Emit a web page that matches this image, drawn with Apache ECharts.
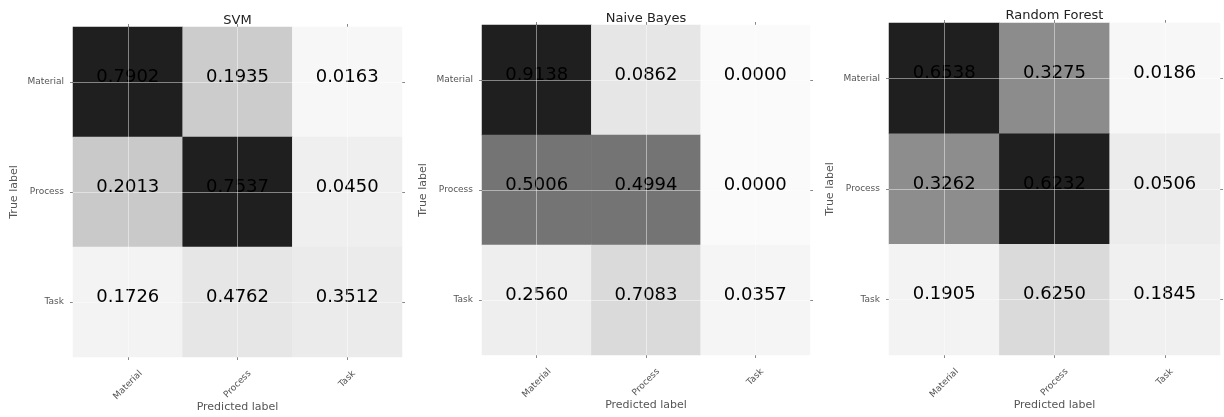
<!DOCTYPE html>
<html><head><meta charset="utf-8">
<script src="https://cdn.jsdelivr.net/npm/echarts@6/dist/echarts.min.js"></script>
<style>html,body{margin:0;padding:0;background:#fff}#c{width:1224px;height:417px}</style>
</head><body><div id="c"></div>
<script>
// ---- data ----
const categories = ['Material', 'Process', 'Task'];
const panelTitles = ['SVM', 'Naive Bayes', 'Random Forest'];
const xAxisName = 'Predicted label';
const yAxisName = 'True label';

// normalized values printed in the cells (rows = true label, cols = predicted)
const svmValues = [[0.7902, 0.1935, 0.0163], [0.2013, 0.7537, 0.0450], [0.1726, 0.4762, 0.3512]];
const nbValues  = [[0.9138, 0.0862, 0.0000], [0.5006, 0.4994, 0.0000], [0.2560, 0.7083, 0.0357]];
const rfValues  = [[0.6538, 0.3275, 0.0186], [0.3262, 0.6232, 0.0506], [0.1905, 0.6250, 0.1845]];

// cell intensity used for the grey colour scale
const svmShade = [[0.88, 0.20, 0.03], [0.21, 0.88, 0.063], [0.047, 0.098, 0.078]];
const nbShade  = [[0.88, 0.10, 0.02], [0.545, 0.545, 0.02], [0.067, 0.145, 0.039]];
const rfShade  = [[0.88, 0.451, 0.031], [0.447, 0.88, 0.075], [0.047, 0.145, 0.059]];

// ---- layout / style ----
const FONT = '"DejaVu Sans", sans-serif';
const rects = [
  { left: 73,  top: 27, width: 329, height: 330, titleTop: 14 },
  { left: 482, top: 25, width: 328, height: 330, titleTop: 12 },
  { left: 889, top: 23, width: 331, height: 332, titleTop: 9 }
];
const panels = [
  { values: svmValues, shade: svmShade },
  { values: nbValues,  shade: nbShade },
  { values: rfValues,  shade: rfShade }
];

// per-label padding so rotated tick labels hang with their tops aligned (like matplotlib)
const mctx = document.createElement('canvas').getContext('2d');
mctx.font = '9px "DejaVu Sans"';
const widths = categories.map(c => mctx.measureText(c).width);
const minW = Math.min.apply(null, widths);
const rich = {};
categories.forEach((c, i) => {
  const p = (widths[i] - minW) * 0.5;
  rich['p' + i] = { fontSize: 9, color: '#555', fontFamily: FONT, padding: [p, p, 0, 0] };
});

const option = { animation: false, backgroundColor: '#fff', title: [], grid: [], xAxis: [], yAxis: [], series: [], visualMap: [] };

panels.forEach((pn, i) => {
  const r = rects[i];
  option.title.push({
    text: panelTitles[i], left: r.left + r.width / 2, top: r.titleTop, textAlign: 'center', padding: 0,
    textStyle: { fontFamily: FONT, fontSize: 13, fontWeight: 'normal', color: '#222' }
  });
  option.grid.push({
    left: r.left, top: r.top, width: r.width, height: r.height,
    containLabel: false, outerBoundsMode: 'none'
  });
  const tick = { show: true, alignWithLabel: true, length: 3, lineStyle: { color: '#888', width: 1 } };
  option.xAxis.push({
    type: 'category', gridIndex: i, data: categories, position: 'bottom',
    axisLine: { show: false }, axisTick: tick, splitLine: { show: false },
    axisLabel: {
      rotate: 45, margin: 22, align: 'center', verticalAlign: 'middle', interval: 0,
      fontFamily: FONT, fontSize: 9, color: '#555', rich: rich,
      formatter: (v) => '{p' + categories.indexOf(v) + '|' + v + '}'
    },
    name: xAxisName, nameLocation: 'middle', nameGap: 45, nameMoveOverlap: false,
    nameTextStyle: { fontFamily: FONT, fontSize: 11, color: '#555' }
  });
  option.xAxis.push({
    type: 'category', gridIndex: i, data: categories, position: 'top',
    axisLine: { show: false }, axisTick: tick, axisLabel: { show: false }, splitLine: { show: false }
  });
  option.yAxis.push({
    type: 'category', gridIndex: i, data: categories, inverse: true, position: 'left',
    axisLine: { show: false }, axisTick: tick, splitLine: { show: false },
    axisLabel: { margin: 9, fontFamily: FONT, fontSize: 9, color: '#555' },
    name: yAxisName, nameLocation: 'middle', nameGap: 53, nameMoveOverlap: false,
    nameTextStyle: { fontFamily: FONT, fontSize: 11, color: '#555' }
  });
  option.yAxis.push({
    type: 'category', gridIndex: i, data: categories, inverse: true, position: 'right',
    axisLine: { show: false }, axisTick: tick, axisLabel: { show: false }, splitLine: { show: false }
  });
  const data = [];
  for (let row = 0; row < categories.length; row++) {
    for (let col = 0; col < categories.length; col++) {
      data.push([col, row, pn.values[row][col], pn.shade[row][col]]);
    }
  }
  const lines = categories.map(c => ({ xAxis: c })).concat(categories.map(c => ({ yAxis: c })));
  option.series.push({
    type: 'heatmap', xAxisIndex: 2 * i, yAxisIndex: 2 * i, data: data,
    itemStyle: { borderWidth: 0 },
    emphasis: { disabled: true },
    label: {
      show: true, fontFamily: FONT, fontSize: 18, color: '#000', offset: [0, -5],
      formatter: (p) => p.data[2].toFixed(4)
    },
    markLine: {
      silent: true, symbol: ['none', 'none'], animation: false,
      label: { show: false },
      lineStyle: { color: 'rgba(255,255,255,0.45)', type: 'solid', width: 1 },
      emphasis: { disabled: true },
      data: lines
    }
  });
  option.visualMap.push({
    show: false, seriesIndex: i, dimension: 3, min: 0, max: 1,
    inRange: { color: ['#ffffff', '#000000'] }
  });
});

const chart = echarts.init(document.getElementById('c'), null, { renderer: 'canvas' });
chart.setOption(option);
</script>
</body></html>
